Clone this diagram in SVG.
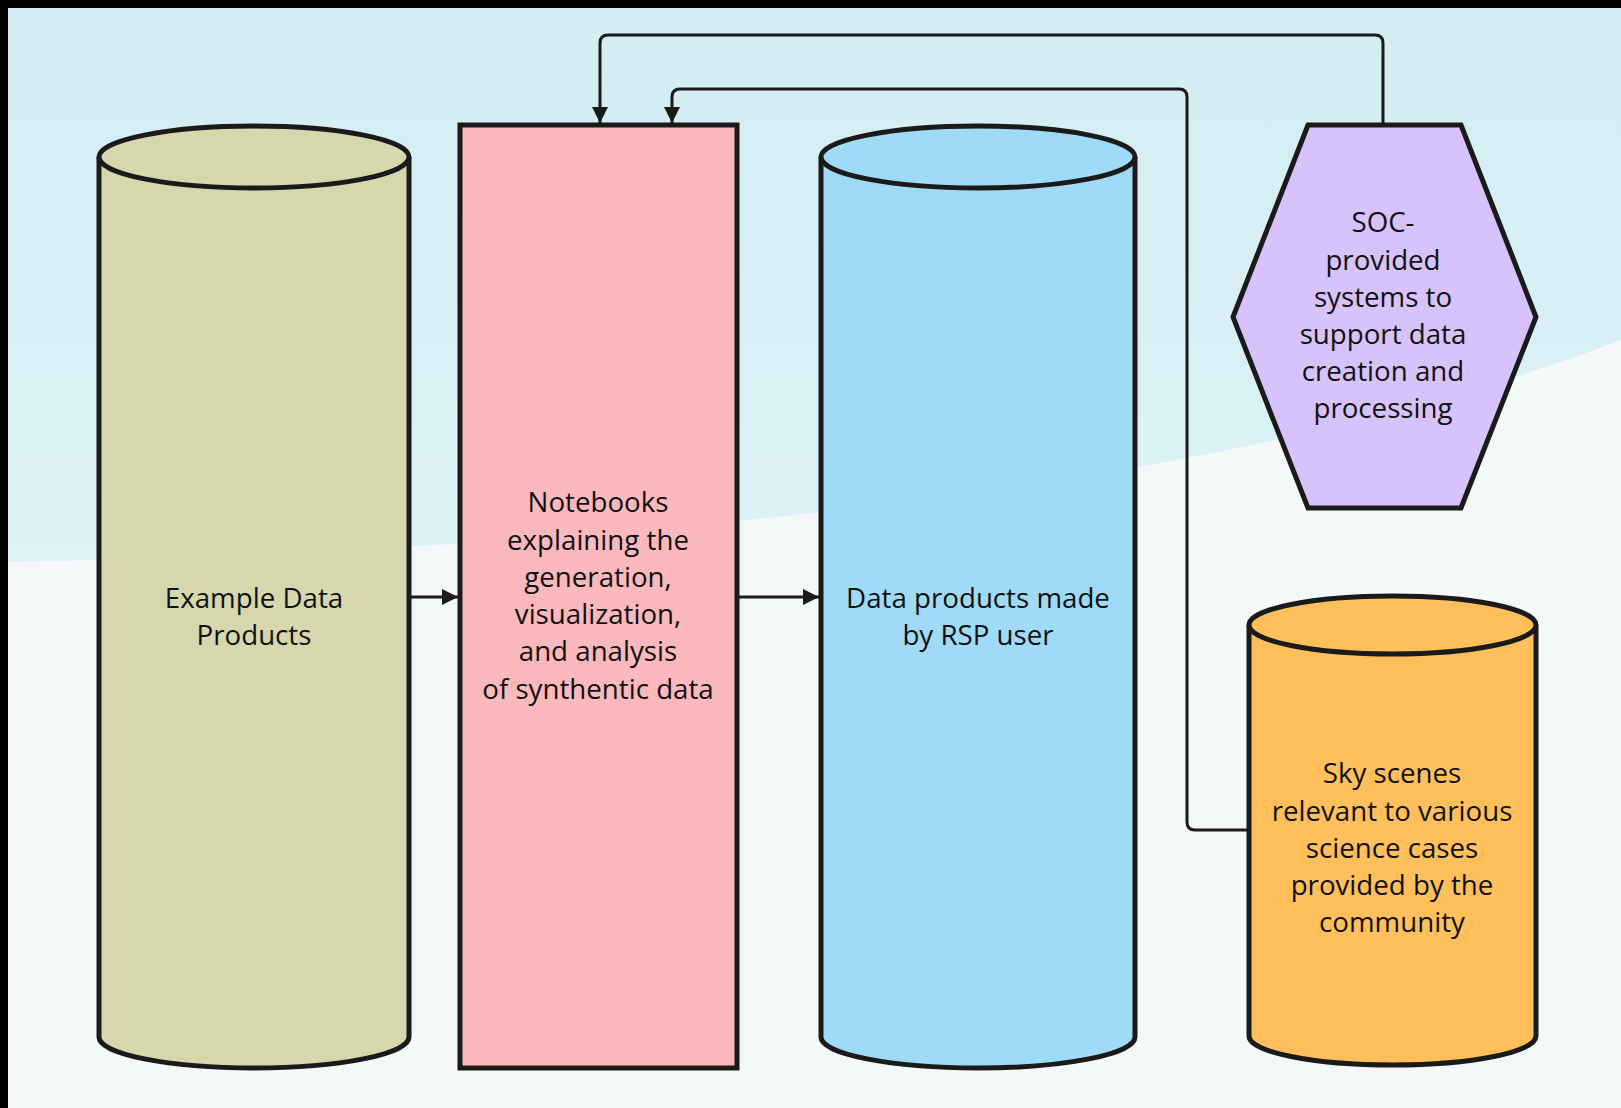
<svg xmlns="http://www.w3.org/2000/svg" width="1621" height="1108" viewBox="0 0 1621 1108">
  <defs>
    <marker id="arr" viewBox="0 0 10 10" refX="10" refY="5" markerWidth="16" markerHeight="16" markerUnits="userSpaceOnUse" orient="auto">
      <path d="M0,0 L10,5 L0,10 Z" fill="#1a1a1a"/>
    </marker>
    <linearGradient id="sky" x1="0" y1="0" x2="0" y2="1">
      <stop offset="0" stop-color="#d3edf3"/>
      <stop offset="1" stop-color="#dcf2f7"/>
    </linearGradient>
  </defs>
  <style>
    .shape { stroke: #1a1a1a; stroke-width: 5; }
    .lbl { font-family: "Open Sans", Lato, sans-serif; font-size: 27.7px; fill: #111; text-anchor: middle; }
    .conn { fill: none; stroke: #1a1a1a; stroke-width: 3; stroke-linejoin: round; }
  </style>

  <!-- background -->
  <rect x="0" y="0" width="1621" height="1108" fill="#f5f8f8"/>
  <path d="M0,0 H1621 V340 Q1100,540 0,562 Z" fill="url(#sky)"/>
  <rect x="0" y="0" width="1621" height="8" fill="#000"/>
  <rect x="0" y="0" width="8" height="1108" fill="#000"/>

  <!-- connectors -->
  <g id="connectors">
    <path class="conn" d="M409,597 H458" marker-end="url(#arr)"/>
    <path class="conn" d="M737,597 H819" marker-end="url(#arr)"/>
    <path class="conn" d="M1383,125 V43 Q1383,35 1375,35 H608 Q600,35 600,43 V123" marker-end="url(#arr)"/>
    <path class="conn" d="M1249,830 H1195 Q1187,830 1187,822 V97 Q1187,89 1179,89 H680 Q672,89 672,97 V123" marker-end="url(#arr)"/>
  </g>

  <!-- Example Data Products -->
  <g id="example-data-products">
    <path class="shape" fill="#d6d7ad" d="M99,157 V1037 A155,31 0 0 0 409,1037 V157"/>
    <ellipse class="shape" fill="#d6d7ad" cx="254" cy="157" rx="155" ry="31"/>
    <text class="lbl" x="254" y="608">Example Data</text>
    <text class="lbl" x="254" y="645">Products</text>
  </g>

  <!-- Notebooks -->
  <g id="notebooks">
    <rect class="shape" fill="#fbb8bd" x="460" y="125" width="277" height="943"/>
    <text class="lbl" x="598" y="512">Notebooks</text>
    <text class="lbl" x="598" y="550">explaining the</text>
    <text class="lbl" x="598" y="587">generation,</text>
    <text class="lbl" x="598" y="624">visualization,</text>
    <text class="lbl" x="598" y="661">and analysis</text>
    <text class="lbl" x="598" y="699">of synthentic data</text>
  </g>

  <!-- Data products made by RSP user -->
  <g id="rsp-user-data">
    <path class="shape" fill="#9fdaf7" d="M821,157 V1037 A157,31 0 0 0 1135,1037 V157"/>
    <ellipse class="shape" fill="#9fdaf7" cx="978" cy="157" rx="157" ry="31"/>
    <text class="lbl" x="978" y="608">Data products made</text>
    <text class="lbl" x="978" y="645">by RSP user</text>
  </g>

  <!-- SOC-provided systems -->
  <g id="soc-systems">
    <polygon class="shape" fill="#d7c2fb" points="1308,125 1461,125 1536,317 1461,508 1308,508 1233,317"/>
    <text class="lbl" x="1383" y="232">SOC-</text>
    <text class="lbl" x="1383" y="270">provided</text>
    <text class="lbl" x="1383" y="307">systems to</text>
    <text class="lbl" x="1383" y="344">support data</text>
    <text class="lbl" x="1383" y="381">creation and</text>
    <text class="lbl" x="1383" y="418">processing</text>
  </g>

  <!-- Sky scenes -->
  <g id="sky-scenes">
    <path class="shape" fill="#ffc05c" d="M1249,625 V1036 A143.5,29 0 0 0 1536,1036 V625"/>
    <ellipse class="shape" fill="#ffc05c" cx="1392.5" cy="625" rx="143.5" ry="29"/>
    <text class="lbl" x="1392" y="783">Sky scenes</text>
    <text class="lbl" x="1392" y="821">relevant to various</text>
    <text class="lbl" x="1392" y="858">science cases</text>
    <text class="lbl" x="1392" y="895">provided by the</text>
    <text class="lbl" x="1392" y="932">community</text>
  </g>
</svg>
